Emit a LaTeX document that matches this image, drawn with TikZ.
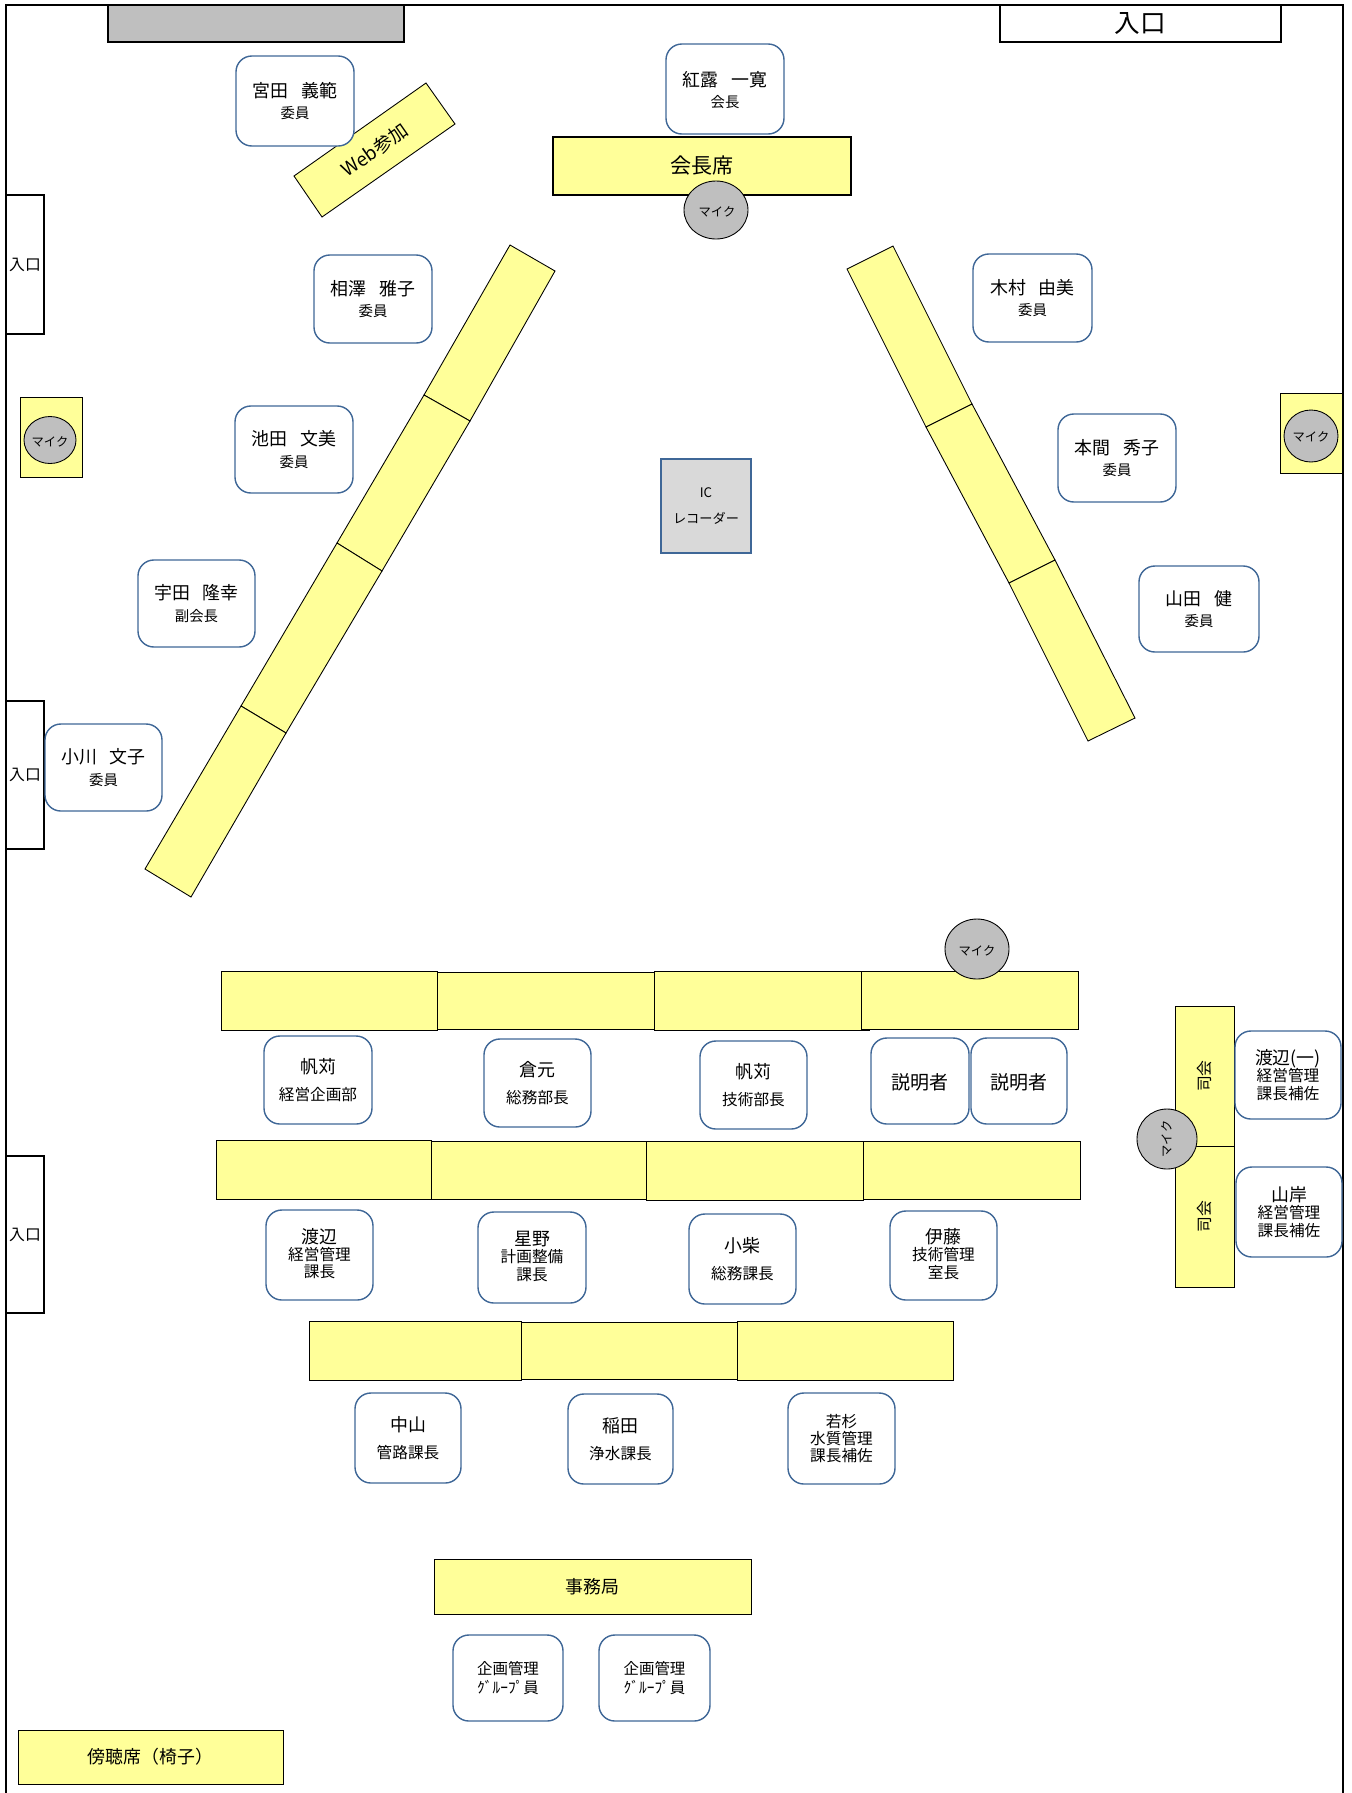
\documentclass[tikz,border=0pt]{standalone}
\usepackage{fontspec}
\setmainfont{Noto Sans CJK JP}
\usepackage{tikz}
\definecolor{deskyellow}{HTML}{FFFF99}
\definecolor{seatblue}{HTML}{3F6797}
\definecolor{micgray}{HTML}{BFBFBF}
\definecolor{recgray}{HTML}{D9D9D9}
\newcommand{\namegap}{\hspace{0.72em}}
\newcommand{\rolefont}{\fontsize{8.2}{10}\selectfont}
\newcommand{\postfont}{\fontsize{8.9}{10}\selectfont}

\begin{document}
\begin{tikzpicture}[
        x=0.02cm, y=-0.02cm,
        every node/.style={align=center, outer sep=0pt, inner sep=0pt},
        % coordinates are reference pixels, 1px = 0.02cm
        wall/.style={draw=black, line width=1.2pt},
        door/.style={draw=black, fill=white, line width=1pt},
        desk/.style={draw=black, fill=deskyellow, line width=0.5pt},
        headdesk/.style={draw=black, fill=deskyellow, line width=1pt},
        seat/.style={draw=seatblue, fill=white, line width=0.8pt, rounded corners=9pt},
        mic/.style={draw=black, fill=micgray, line width=0.5pt},
        plain/.style={font=\fontsize{10.2}{12.3}\selectfont},
        wide/.style={font=\fontsize{10.2}{15}\selectfont},
        triple/.style={font=\fontsize{10.2}{9.9}\selectfont},
        mictext/.style={font=\fontsize{7}{8}\selectfont},
        doortext/.style={font=\fontsize{9}{10}\selectfont}
    ]
        \useasboundingbox (0,0) rectangle (1352,1793);
        \draw[wall] (6,1793) -- (6,5) -- (1343,5) -- (1343,1793);

        % top edge and doors
        \draw[door, fill=micgray] (108,5) rectangle (404,42);
        \draw[door] (1000,5) rectangle node[font=\fontsize{14.6}{16}\selectfont] (doortop) {入口} (1281,42);
        \draw[door] (6,195) rectangle node[doortext] (doorone) {入口} (44,334);
        \draw[door] (6,701) rectangle node[doortext] (doortwo) {入口} (44,849);
        \draw[door] (6,1156) rectangle node[doortext] (doorthree) {入口} (44,1313);

        % chair and web desks
        \draw[headdesk] (553,137) rectangle node[font=\fontsize{12}{14}\selectfont] (chairdesk) {会長席} (851,195);
        \draw[desk] (426,83) -- (455,124) -- (322,217) -- (294,176) -- cycle;
        \node[font=\fontsize{10.7}{12}\selectfont, rotate=35] (webdesk) at (375,150) {Web参加};

        % slanted desks, left
        \draw[desk] (510,245) -- (555,271) -- (470,421) -- (424,395) -- cycle;
        \draw[desk] (424,395) -- (470,421) -- (382,571) -- (337,543) -- cycle;
        \draw[desk] (337,543) -- (382,571) -- (286,733) -- (241,706) -- cycle;
        \draw[desk] (241,706) -- (286,733) -- (191,897) -- (145,869) -- cycle;

        % slanted desks, right
        \draw[desk] (893,246) -- (847,269) -- (926,427) -- (972,404) -- cycle;
        \draw[desk] (972,404) -- (926,427) -- (1009,583) -- (1055,560) -- cycle;
        \draw[desk] (1055,560) -- (1009,583) -- (1088,741) -- (1135,718) -- cycle;

        % side mic stands
        \draw[desk] (20,397) rectangle (82,477);
        \draw[desk] (1280,393) rectangle (1342,473);

        % staff rows
        \draw[desk] (221,971) rectangle (437,1030);
        \draw[desk] (437,972) rectangle (654,1029);
        \draw[desk] (654,971) rectangle (869,1030);
        \draw[desk] (861,971) rectangle (1078,1029);
        \draw[desk] (216,1140) rectangle (431,1199);
        \draw[desk] (431,1141) rectangle (646,1199);
        \draw[desk] (646,1141) rectangle (863,1200);
        \draw[desk] (863,1141) rectangle (1080,1199);
        \draw[desk] (309,1321) rectangle (521,1380);
        \draw[desk] (521,1322) rectangle (737,1379);
        \draw[desk] (737,1321) rectangle (953,1380);

        % moderator, secretariat, public
        \draw[desk] (1175,1006) rectangle node[doortext, rotate=90] (hostone) {司会} (1234,1146);
        \draw[desk] (1175,1146) rectangle node[doortext, rotate=90] (hosttwo) {司会} (1234,1287);
        \draw[desk] (434,1559) rectangle node[plain] (office) {事務局} (751,1614);
        \draw[desk] (18,1730) rectangle node[plain] (gallery) {傍聴席（椅子）} (283,1784);

        % committee
        \draw[seat] (236,56) rectangle node[plain] (miyata) {宮田\namegap 義範\\{\rolefont 委員}} (354,146);
        \draw[seat] (666,44) rectangle node[plain, yshift=-0.6pt] (kuro) {紅露\namegap 一寛\\{\rolefont 会長}} (784,134);
        \draw[seat] (314,255) rectangle node[plain] (aizawa) {相澤\namegap 雅子\\{\rolefont 委員}} (432,343);
        \draw[seat] (235,406) rectangle node[plain] (ikeda) {池田\namegap 文美\\{\rolefont 委員}} (353,493);
        \draw[seat] (138,560) rectangle node[plain] (uda) {宇田\namegap 隆幸\\{\rolefont 副会長}} (255,647);
        \draw[seat] (45,724) rectangle node[plain] (ogawa) {小川\namegap 文子\\{\rolefont 委員}} (162,811);
        \draw[seat] (973,254) rectangle node[plain] (kimura) {木村\namegap 由美\\{\rolefont 委員}} (1092,342);
        \draw[seat] (1058,414) rectangle node[plain] (honma) {本間\namegap 秀子\\{\rolefont 委員}} (1176,502);
        \draw[seat] (1139,566) rectangle node[plain] (yamada) {山田\namegap 健\\{\rolefont 委員}} (1259,652);

        % front row
        \draw[seat] (264,1036) rectangle node[wide] (hokari) {帆苅\\{\postfont 経営企画部}} (372,1124);
        \draw[seat] (484,1039) rectangle node[wide] (kuramoto) {倉元\\{\postfont 総務部長}} (591,1127);
        \draw[seat] (700,1041) rectangle node[wide] (hokaritwo) {帆苅\\{\postfont 技術部長}} (807,1129);
        \draw[seat] (871,1038) rectangle node[font=\fontsize{10.8}{12}\selectfont, yshift=-1pt] (expone) {説明者} (969,1124);
        \draw[seat] (971,1038) rectangle node[font=\fontsize{10.8}{12}\selectfont, yshift=-1pt] (exptwo) {説明者} (1067,1124);

        % second row
        \draw[seat] (266,1210) rectangle node[triple, yshift=0.8pt] (watanabe) {渡辺\\{\postfont 経営管理}\\{\postfont 課長}} (373,1300);
        \draw[seat] (478,1212) rectangle node[triple, yshift=0.8pt] (hoshino) {星野\\{\postfont 計画整備}\\{\postfont 課長}} (586,1303);
        \draw[seat] (689,1214) rectangle node[wide] (koshiba) {小柴\\{\postfont 総務課長}} (796,1304);
        \draw[seat] (890,1211) rectangle node[triple, yshift=0.8pt] (ito) {伊藤\\{\postfont 技術管理}\\{\postfont 室長}} (997,1300);

        % third row
        \draw[seat] (355,1393) rectangle node[wide] (nakayama) {中山\\{\postfont 管路課長}} (461,1483);
        \draw[seat] (568,1394) rectangle node[wide] (inada) {稲田\\{\postfont 浄水課長}} (673,1484);
        \draw[seat] (788,1393) rectangle node[triple] (wakasugi) {{\postfont 若杉}\\{\postfont 水質管理}\\{\postfont 課長補佐}} (895,1484);

        % moderators
        \draw[seat] (1235,1031) rectangle node[triple] (watanabeone) {渡辺(一)\\{\postfont 経営管理}\\{\postfont 課長補佐}} (1341,1119);
        \draw[seat] (1236,1167) rectangle node[triple] (yamagishi) {山岸\\{\postfont 経営管理}\\{\postfont 課長補佐}} (1342,1257);

        % secretariat staff
        \draw[seat] (453,1635) rectangle node[font=\fontsize{8.8}{10.4}\selectfont] (staffone) {企画管理\\ｸﾞﾙｰﾌﾟ員} (563,1721);
        \draw[seat] (599,1635) rectangle node[font=\fontsize{8.8}{10.4}\selectfont] (stafftwo) {企画管理\\ｸﾞﾙｰﾌﾟ員} (710,1721);

        % recorder
        \draw[draw=seatblue, fill=recgray, line width=1.5pt] (661,459) rectangle node[font=\fontsize{7.5}{15}\selectfont] (recorder) {IC\\レコーダー} (751,553);

        % mics
        \draw[mic] (716,210) ellipse [x radius=32, y radius=29];
        \node[mictext] (micchair) at (717,212) {マイク};
        \draw[mic] (50,440) ellipse [x radius=26, y radius=23.5];
        \node[mictext] (micleft) at (50,442) {マイク};
        \draw[mic] (1311,436) ellipse [x radius=27, y radius=26];
        \node[mictext] (micright) at (1311,437) {マイク};
        \draw[mic] (977,949) ellipse [x radius=32, y radius=30];
        \node[mictext] (micstaff) at (977,951) {マイク};
        \draw[mic] (1167,1139) ellipse [x radius=30, y radius=30];
        \node[mictext, rotate=90] (michost) at (1167,1139) {マイク};
    \end{tikzpicture}
\end{document}
